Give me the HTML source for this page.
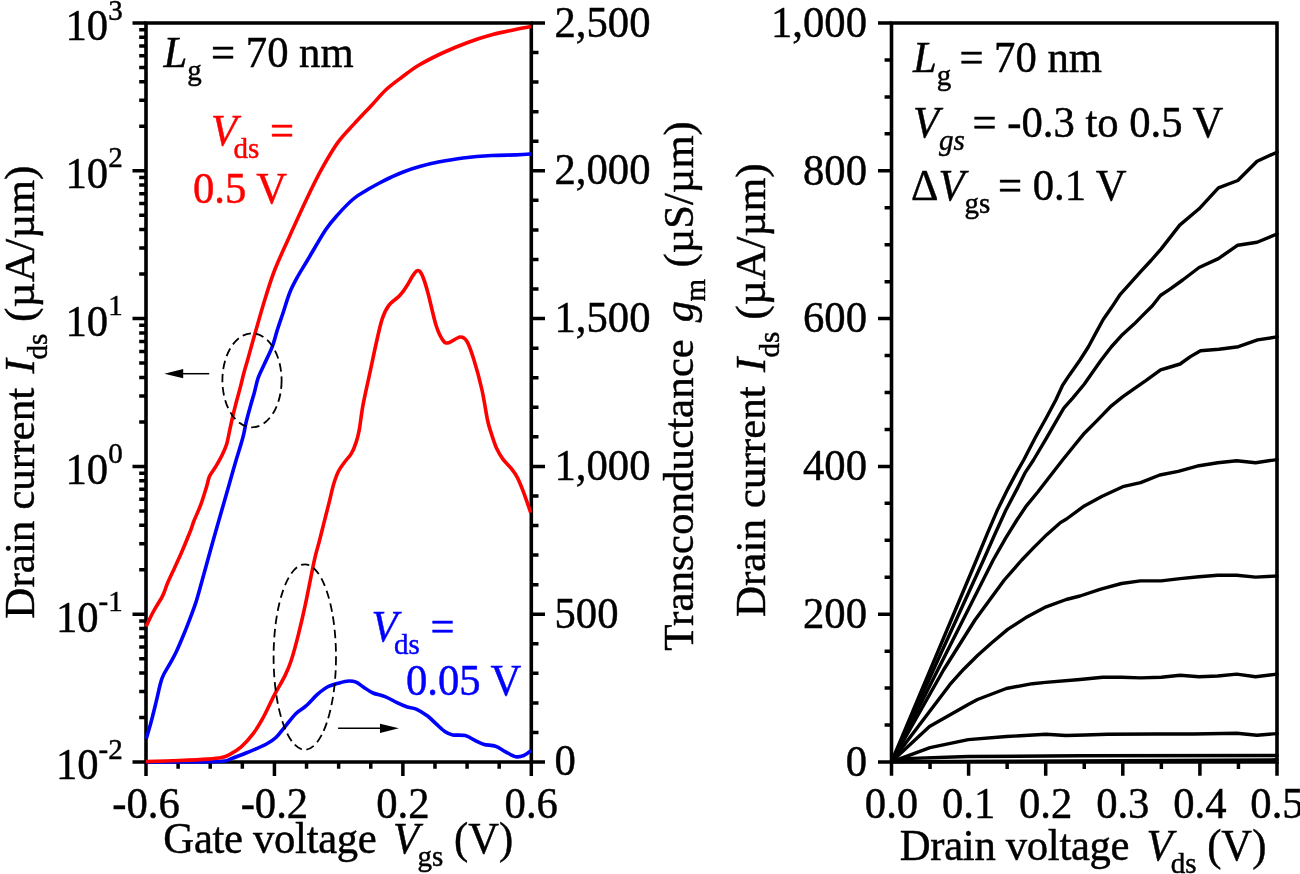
<!DOCTYPE html>
<html><head><meta charset="utf-8"><title>Ids-Vgs and Ids-Vds characteristics</title>
<style>
html,body{margin:0;padding:0;background:#fff;width:1300px;height:874px;overflow:hidden}
svg{display:block;will-change:transform}
text{font-family:"Liberation Serif",serif;font-size:42.67px;fill:#000;stroke:#000;stroke-width:0.45px}
</style></head><body>
<svg width="1300" height="874" viewBox="0 0 1300 874">
<rect width="1300" height="874" fill="#fff"/>
<g id="axes">
<path d="M146 23H531.3V762H146Z" fill="none" stroke="#000" stroke-width="3.6" stroke-linejoin="miter"/>
<path d="M146 762.00H132.5 M146 717.51H139.2 M146 691.48H139.2 M146 673.02H139.2 M146 658.69H139.2 M146 646.99H139.2 M146 637.09H139.2 M146 628.52H139.2 M146 620.96H139.2 M146 614.20H132.5 M146 569.71H139.2 M146 543.68H139.2 M146 525.22H139.2 M146 510.89H139.2 M146 499.19H139.2 M146 489.29H139.2 M146 480.72H139.2 M146 473.16H139.2 M146 466.40H132.5 M146 421.91H139.2 M146 395.88H139.2 M146 377.42H139.2 M146 363.09H139.2 M146 351.39H139.2 M146 341.49H139.2 M146 332.92H139.2 M146 325.36H139.2 M146 318.60H132.5 M146 274.11H139.2 M146 248.08H139.2 M146 229.62H139.2 M146 215.29H139.2 M146 203.59H139.2 M146 193.69H139.2 M146 185.12H139.2 M146 177.56H139.2 M146 170.80H132.5 M146 126.31H139.2 M146 100.28H139.2 M146 81.82H139.2 M146 67.49H139.2 M146 55.79H139.2 M146 45.89H139.2 M146 37.32H139.2 M146 29.76H139.2 M146 23.00H132.5 M531.3 762.00H545.00 M531.3 732.44H538.50 M531.3 702.88H538.50 M531.3 673.32H538.50 M531.3 643.76H538.50 M531.3 614.20H545.00 M531.3 584.64H538.50 M531.3 555.08H538.50 M531.3 525.52H538.50 M531.3 495.96H538.50 M531.3 466.40H545.00 M531.3 436.84H538.50 M531.3 407.28H538.50 M531.3 377.72H538.50 M531.3 348.16H538.50 M531.3 318.60H545.00 M531.3 289.04H538.50 M531.3 259.48H538.50 M531.3 229.92H538.50 M531.3 200.36H538.50 M531.3 170.80H545.00 M531.3 141.24H538.50 M531.3 111.68H538.50 M531.3 82.12H538.50 M531.3 52.56H538.50 M531.3 23.00H545.00 M146.00 762V776 M178.11 762V768.8 M210.22 762V768.8 M242.33 762V768.8 M274.43 762V776 M306.54 762V768.8 M338.65 762V768.8 M370.76 762V768.8 M402.87 762V776 M434.97 762V768.8 M467.08 762V768.8 M499.19 762V768.8 M531.30 762V776" stroke="#000" stroke-width="3.5" fill="none"/>
<path d="M891.5 23H1277V762H891.5Z" fill="none" stroke="#000" stroke-width="3.6"/>
<path d="M891.5 762.00H878.00 M891.5 725.05H884.60 M891.5 688.10H884.60 M891.5 651.15H884.60 M891.5 614.20H878.00 M891.5 577.25H884.60 M891.5 540.30H884.60 M891.5 503.35H884.60 M891.5 466.40H878.00 M891.5 429.45H884.60 M891.5 392.50H884.60 M891.5 355.55H884.60 M891.5 318.60H878.00 M891.5 281.65H884.60 M891.5 244.70H884.60 M891.5 207.75H884.60 M891.5 170.80H878.00 M891.5 133.85H884.60 M891.5 96.90H884.60 M891.5 59.95H884.60 M891.5 23.00H878.00 M891.50 762V775.7 M930.05 762V768.9 M968.60 762V775.7 M1007.15 762V768.9 M1045.70 762V775.7 M1084.25 762V768.9 M1122.80 762V775.7 M1161.35 762V768.9 M1199.90 762V775.7 M1238.45 762V768.9 M1277.00 762V775.7" stroke="#000" stroke-width="3.5" fill="none"/>
</g>
<g id="curves">
<path d="M146.0 761.9 C158.0 761.8 203.6 762.0 217.8 761.5 C232.0 761.0 226.2 760.2 231.4 758.6 C236.6 757.0 243.2 754.2 249.0 751.8 C254.8 749.4 262.0 746.4 266.5 744.0 C271.0 741.6 273.3 739.9 276.2 737.2 C279.1 734.5 280.7 731.8 284.0 727.8 C287.3 723.8 292.4 717.0 296.0 713.4 C299.6 709.8 302.1 709.4 305.7 706.2 C309.3 703.0 314.1 697.4 317.7 694.2 C321.3 691.0 323.7 688.9 327.3 687.0 C330.9 685.1 335.7 683.9 339.3 682.9 C342.9 681.9 346.1 681.1 348.9 681.0 C351.7 680.9 353.7 681.2 356.1 682.2 C358.5 683.2 360.5 685.2 363.3 687.0 C366.1 688.8 369.4 691.4 373.0 693.0 C376.6 694.6 381.0 695.0 385.0 696.6 C389.0 698.2 393.4 700.9 397.0 702.6 C400.6 704.3 403.4 705.6 406.6 706.7 C409.8 707.8 412.7 707.6 416.2 709.1 C419.7 710.6 424.2 713.5 427.6 716.0 C431.0 718.5 433.5 721.6 436.4 724.2 C439.3 726.8 442.5 730.0 445.2 731.8 C447.9 733.6 449.3 734.3 452.7 734.9 C456.1 735.5 461.5 734.6 465.3 735.6 C469.1 736.6 472.2 739.1 475.4 740.6 C478.5 742.1 480.8 743.5 484.2 744.4 C487.6 745.3 492.0 745.0 495.6 746.3 C499.2 747.5 502.2 750.2 505.6 751.9 C509.0 753.6 512.8 756.1 515.7 756.7 C518.7 757.3 520.7 756.8 523.3 755.7 C525.9 754.7 530.0 751.3 531.3 750.4" stroke="#00f" stroke-width="3.6" fill="none" stroke-linejoin="round"/>
<path d="M146.0 761.5 C151.5 761.3 168.6 760.9 178.9 760.5 C189.2 760.1 200.9 759.6 208.0 759.1 C215.1 758.6 218.1 758.3 221.7 757.6 C225.3 756.9 226.2 756.5 229.5 754.7 C232.8 752.9 237.3 750.3 241.2 746.9 C245.1 743.5 249.2 738.9 252.8 734.2 C256.4 729.5 259.0 725.2 262.6 718.7 C266.2 712.2 270.5 702.4 274.2 695.3 C277.9 688.2 282.1 681.7 284.9 675.9 C287.7 670.1 288.9 667.5 291.2 660.5 C293.5 653.5 296.1 643.7 298.5 634.1 C300.9 624.5 303.1 615.2 305.7 602.9 C308.3 590.6 312.1 570.3 314.4 560.1 C316.6 549.9 317.6 548.0 319.2 541.8 C320.8 535.5 322.4 529.0 324.0 522.6 C325.6 516.2 327.3 509.8 328.9 503.4 C330.5 497.0 332.1 489.5 333.7 484.1 C335.3 478.8 336.6 475.0 338.5 471.3 C340.4 467.6 342.8 464.6 344.9 461.7 C347.0 458.8 349.4 456.9 351.3 453.7 C353.2 450.5 354.8 446.4 356.1 442.4 C357.4 438.4 358.2 435.7 359.3 429.6 C360.4 423.5 361.2 414.9 362.9 405.6 C364.6 396.3 367.4 384.3 369.7 373.6 C372.0 362.9 374.5 350.7 376.6 341.5 C378.7 332.3 380.2 324.7 382.3 318.6 C384.4 312.5 386.3 308.7 389.2 304.9 C392.1 301.1 396.6 298.9 399.5 295.8 C402.4 292.8 404.3 289.8 406.4 286.6 C408.5 283.4 410.6 279.1 412.3 276.5 C414.0 273.9 415.2 271.8 416.5 271.0 C417.8 270.2 418.8 270.2 420.0 271.5 C421.2 272.8 422.1 274.8 423.5 278.5 C424.9 282.2 426.0 285.7 428.1 293.5 C430.2 301.3 433.6 317.7 436.1 325.5 C438.6 333.3 440.9 337.5 443.0 340.4 C445.1 343.3 445.8 343.3 448.7 342.7 C451.6 342.1 457.1 337.2 460.1 337.0 C463.2 336.8 464.7 337.7 467.0 341.5 C469.3 345.3 471.4 351.8 473.9 359.8 C476.4 367.8 479.6 379.6 481.9 389.6 C484.2 399.6 485.9 412.5 487.5 420.0 C489.1 427.5 490.1 429.6 491.6 434.4 C493.2 439.2 494.9 444.7 496.8 448.8 C498.7 452.9 500.5 455.8 502.9 459.1 C505.3 462.4 508.8 465.3 511.2 468.4 C513.6 471.5 515.4 473.7 517.4 477.6 C519.4 481.6 521.3 486.3 523.5 492.1 C525.7 497.9 529.5 509.2 530.7 512.6" stroke="#f00" stroke-width="3.6" fill="none" stroke-linejoin="round"/>
<path d="M146.2 738.9 C147.0 736.1 149.3 728.8 151.0 722.4 C152.7 716.0 154.7 707.7 156.5 700.4 C158.3 693.1 159.8 684.4 162.0 678.4 C164.2 672.4 167.1 668.8 169.5 664.4 C171.9 660.0 174.0 656.6 176.3 651.8 C178.6 647.0 180.9 641.3 183.2 635.8 C185.5 630.3 187.9 624.1 190.0 618.6 C192.1 613.1 194.2 607.4 195.8 602.6 C197.4 597.8 196.6 600.4 199.5 590.0 C202.4 579.6 208.6 556.7 213.3 540.0 C218.0 523.3 224.0 502.7 227.6 490.0 C231.2 477.3 232.5 472.7 235.0 464.0 C237.5 455.3 241.0 444.7 242.8 437.8 C244.7 430.9 244.8 427.8 246.1 422.4 C247.4 417.0 249.3 410.3 250.7 405.2 C252.1 400.1 253.3 396.5 254.5 392.0 C255.7 387.5 256.4 383.1 258.0 378.4 C259.6 373.7 262.0 369.3 264.4 364.0 C266.8 358.7 270.3 352.0 272.4 346.4 C274.5 340.8 275.3 336.3 277.2 330.4 C279.1 324.5 281.5 317.6 283.6 311.2 C285.7 304.8 287.6 297.9 290.0 292.0 C292.4 286.1 295.1 281.3 298.0 276.0 C300.9 270.7 303.0 267.7 307.6 260.0 C312.2 252.3 320.4 237.7 325.5 230.0 C330.6 222.3 333.6 219.3 338.3 214.1 C343.0 208.8 349.3 202.4 353.9 198.5 C358.5 194.6 361.5 193.3 365.8 190.7 C370.1 188.1 375.4 185.2 379.5 183.0 C383.6 180.8 386.6 179.3 390.5 177.5 C394.4 175.7 398.3 173.8 403.2 172.0 C408.1 170.2 413.8 168.2 419.7 166.6 C425.6 164.9 431.1 163.5 438.3 162.1 C445.5 160.7 454.1 159.1 463.0 158.0 C471.9 156.9 482.9 156.0 491.8 155.5 C500.7 155.0 510.0 155.2 516.5 154.9 C523.0 154.6 528.6 154.1 531.0 153.9" stroke="#00f" stroke-width="3.6" fill="none" stroke-linejoin="round"/>
<path d="M146.0 626.5 C147.3 623.9 150.9 616.1 153.7 611.0 C156.5 605.9 160.3 600.5 162.6 595.9 C164.9 591.3 165.4 588.1 167.4 583.5 C169.4 578.9 172.0 573.4 174.3 568.4 C176.6 563.4 178.4 559.7 181.2 553.3 C183.9 546.9 188.7 535.3 190.8 530.0 C192.9 524.7 192.1 525.6 193.7 521.5 C195.3 517.4 198.4 511.0 200.6 505.1 C202.8 499.2 205.3 490.7 206.8 485.9 C208.3 481.1 208.0 479.5 209.5 476.3 C211.0 473.1 213.5 470.4 215.7 466.7 C217.9 463.0 220.7 458.1 222.5 454.3 C224.3 450.5 225.7 447.2 226.7 444.0 C227.7 440.8 227.8 439.5 228.7 435.1 C229.6 430.7 231.2 423.0 232.4 417.8 C233.6 412.6 234.5 409.1 235.8 404.0 C237.1 398.9 239.1 392.0 240.4 386.9 C241.7 381.8 242.5 378.1 243.8 373.2 C245.1 368.2 246.5 364.1 248.4 357.2 C250.3 350.3 252.7 341.4 255.5 331.7 C258.3 322.0 261.9 309.1 265.1 298.8 C268.3 288.5 270.6 280.5 274.7 270.0 C278.8 259.5 284.6 247.4 289.8 235.7 C295.1 224.0 300.9 211.2 306.2 200.0 C311.5 188.8 316.6 178.3 321.9 168.7 C327.2 159.1 332.6 149.8 337.9 142.4 C343.2 135.0 348.1 130.4 353.9 124.1 C359.6 117.8 367.1 110.1 372.4 104.4 C377.7 98.7 380.9 94.5 385.7 90.0 C390.5 85.5 395.7 81.8 401.2 77.7 C406.7 73.6 411.8 69.4 418.7 65.3 C425.6 61.2 434.3 56.8 442.4 53.0 C450.5 49.2 458.9 45.7 467.1 42.7 C475.3 39.7 483.6 37.0 491.8 34.8 C500.0 32.6 510.0 30.7 516.5 29.3 C523.0 27.9 528.6 27.1 531.0 26.6" stroke="#f00" stroke-width="3.6" fill="none" stroke-linejoin="round"/>
<path d="M891.5 761.8 L1277.0 759.8" stroke="#000" stroke-width="3.4" fill="none" stroke-linejoin="round" stroke-linecap="round"/>
<path d="M891.5 761.8 L904.5 758.6 L968.0 756.5 L1080.0 755.8 L1277.0 755.5" stroke="#000" stroke-width="3.4" fill="none" stroke-linejoin="round" stroke-linecap="round"/>
<path d="M891.5 761.8 L930.0 747.6 L968.3 739.6 L1006.5 736.5 L1046.0 734.3 L1066.0 735.5 L1085.0 735.0 L1107.7 734.2 L1155.5 734.0 L1193.3 734.0 L1236.7 733.2 L1257.0 735.2 L1277.0 733.6" stroke="#000" stroke-width="3.4" fill="none" stroke-linejoin="round" stroke-linecap="round"/>
<path d="M891.5 761.8 L929.5 726.5 L968.2 704.4 L977.5 699.5 L1006.3 688.5 L1032.4 683.7 L1045.6 682.4 L1080.0 679.5 L1102.7 677.2 L1121.5 677.2 L1140.4 677.9 L1161.2 677.2 L1180.1 675.3 L1199.0 676.8 L1217.8 676.0 L1236.7 674.1 L1255.6 676.8 L1277.0 674.1" stroke="#000" stroke-width="3.4" fill="none" stroke-linejoin="round" stroke-linecap="round"/>
<path d="M891.5 761.8 L950.0 684.4 L963.7 669.2 L977.5 655.5 L991.2 643.2 L1007.7 629.4 L1025.5 617.8 L1046.1 606.8 L1066.2 599.5 L1080.0 596.0 L1100.8 589.2 L1121.5 583.5 L1140.4 580.9 L1161.2 580.9 L1180.1 578.6 L1199.0 576.7 L1217.8 575.2 L1236.7 575.2 L1255.6 577.1 L1277.0 576.0" stroke="#000" stroke-width="3.4" fill="none" stroke-linejoin="round" stroke-linecap="round"/>
<path d="M891.5 761.8 L943.5 670.0 L975.0 620.0 L990.0 599.5 L1004.3 580.0 L1021.8 560.0 L1033.2 548.1 L1047.0 534.4 L1060.0 522.9 L1066.5 519.0 L1084.3 505.9 L1102.2 496.3 L1122.8 486.7 L1140.6 482.6 L1159.8 475.0 L1178.2 471.3 L1199.0 465.7 L1217.8 462.7 L1236.7 460.8 L1255.6 462.7 L1277.0 459.6" stroke="#000" stroke-width="3.4" fill="none" stroke-linejoin="round" stroke-linecap="round"/>
<path d="M891.5 761.8 L993.2 560.0 L1005.8 537.8 L1017.2 519.5 L1026.4 505.8 L1037.8 492.0 L1049.2 477.2 L1062.6 460.0 L1074.1 445.8 L1084.4 433.2 L1097.0 420.6 L1111.4 405.8 L1122.9 396.7 L1134.3 388.6 L1145.8 380.6 L1160.6 369.8 L1168.6 367.5 L1180.1 364.0 L1190.4 356.6 L1200.5 350.7 L1219.0 349.2 L1238.4 346.7 L1257.6 339.9 L1277.0 336.9" stroke="#000" stroke-width="3.4" fill="none" stroke-linejoin="round" stroke-linecap="round"/>
<path d="M891.5 761.8 L983.5 560.0 L994.3 535.5 L1005.8 510.3 L1017.2 488.6 L1025.2 472.6 L1033.5 460.0 L1046.6 437.8 L1055.8 421.8 L1063.8 408.1 L1072.9 397.8 L1084.4 384.0 L1092.4 372.6 L1101.2 360.0 L1111.2 347.0 L1122.6 334.4 L1134.1 324.1 L1143.2 314.9 L1152.4 305.8 L1160.4 295.5 L1170.0 289.2 L1182.7 280.0 L1199.1 267.5 L1218.4 258.6 L1237.8 245.2 L1257.1 242.2 L1277.0 234.0" stroke="#000" stroke-width="3.4" fill="none" stroke-linejoin="round" stroke-linecap="round"/>
<path d="M891.5 761.8 L976.4 560.0 L987.5 533.2 L997.8 509.2 L1008.0 488.6 L1017.2 471.4 L1023.7 460.0 L1035.2 437.8 L1046.6 417.2 L1055.8 400.0 L1062.6 385.2 L1069.5 374.9 L1080.0 360.0 L1088.3 347.0 L1096.3 332.1 L1103.2 319.5 L1111.2 308.1 L1120.3 294.3 L1130.6 282.9 L1140.9 271.4 L1151.0 260.5 L1161.2 248.9 L1179.7 225.1 L1199.1 208.8 L1218.4 187.9 L1237.8 180.5 L1257.1 161.2 L1277.0 152.2" stroke="#000" stroke-width="3.4" fill="none" stroke-linejoin="round" stroke-linecap="round"/>
<ellipse cx="252" cy="380.3" rx="29.6" ry="47" fill="none" stroke="#000" stroke-width="1.8" stroke-dasharray="8.5 4.8"/>
<ellipse cx="304.8" cy="657" rx="31.2" ry="92.7" fill="none" stroke="#000" stroke-width="1.8" stroke-dasharray="8.5 4.8"/>
<path d="M209.2 373.7H182" stroke="#000" stroke-width="1.5"/><path d="M164.3 373.7L183.2 369.1V378.3Z" fill="#000"/>
<path d="M338.1 728.3H381" stroke="#000" stroke-width="1.5"/><path d="M398.9 728.3L380 723.7V732.9Z" fill="#000"/>
</g>
<g id="texts">
<text transform="matrix(1 0 0 1.04 0 -1.62)" x="122.70" y="40.50" text-anchor="end">10<tspan font-size="29" dy="-20">3</tspan></text>
<text transform="matrix(1 0 0 1.04 0 -7.53)" x="122.70" y="188.30" text-anchor="end">10<tspan font-size="29" dy="-20">2</tspan></text>
<text transform="matrix(1 0 0 1.04 0 -13.44)" x="122.70" y="336.10" text-anchor="end">10<tspan font-size="29" dy="-20">1</tspan></text>
<text transform="matrix(1 0 0 1.04 0 -19.36)" x="122.70" y="483.90" text-anchor="end">10<tspan font-size="29" dy="-20">0</tspan></text>
<text transform="matrix(1 0 0 1.04 0 -25.27)" x="122.70" y="631.70" text-anchor="end">10<tspan font-size="29" dy="-20">-1</tspan></text>
<text transform="matrix(1 0 0 1.04 0 -31.18)" x="122.70" y="779.50" text-anchor="end">10<tspan font-size="29" dy="-20">-2</tspan></text>
<text transform="matrix(1 0 0 1.04 0 -31.02)" x="554.50" y="775.50">0</text>
<text transform="matrix(1 0 0 1.04 0 -25.11)" x="554.50" y="627.70">500</text>
<text transform="matrix(1 0 0 1.04 0 -19.20)" x="554.50" y="479.90">1,000</text>
<text transform="matrix(1 0 0 1.04 0 -13.28)" x="554.50" y="332.10">1,500</text>
<text transform="matrix(1 0 0 1.04 0 -7.37)" x="554.50" y="184.30">2,000</text>
<text transform="matrix(1 0 0 1.04 0 -1.46)" x="554.50" y="36.50">2,500</text>
<text transform="matrix(1 0 0 1.04 0 -32.74)" x="146.00" y="818.50" text-anchor="middle">-0.6</text>
<text transform="matrix(1 0 0 1.04 0 -32.74)" x="274.43" y="818.50" text-anchor="middle">-0.2</text>
<text transform="matrix(1 0 0 1.04 0 -32.74)" x="402.87" y="818.50" text-anchor="middle">0.2</text>
<text transform="matrix(1 0 0 1.04 0 -32.74)" x="531.30" y="818.50" text-anchor="middle">0.6</text>
<text transform="matrix(1 0 0 1.04 0 -32.74)" x="891.50" y="818.50" text-anchor="middle">0.0</text>
<text transform="matrix(1 0 0 1.04 0 -32.74)" x="968.60" y="818.50" text-anchor="middle">0.1</text>
<text transform="matrix(1 0 0 1.04 0 -32.74)" x="1045.70" y="818.50" text-anchor="middle">0.2</text>
<text transform="matrix(1 0 0 1.04 0 -32.74)" x="1122.80" y="818.50" text-anchor="middle">0.3</text>
<text transform="matrix(1 0 0 1.04 0 -32.74)" x="1199.90" y="818.50" text-anchor="middle">0.4</text>
<text transform="matrix(1 0 0 1.04 0 -32.74)" x="1277.00" y="818.50" text-anchor="middle">0.5</text>
<text transform="matrix(1 0 0 1.04 0 -31.03)" x="867.00" y="775.80" text-anchor="end">0</text>
<text transform="matrix(1 0 0 1.04 0 -25.12)" x="867.00" y="628.00" text-anchor="end">200</text>
<text transform="matrix(1 0 0 1.04 0 -19.21)" x="867.00" y="480.20" text-anchor="end">400</text>
<text transform="matrix(1 0 0 1.04 0 -13.30)" x="867.00" y="332.40" text-anchor="end">600</text>
<text transform="matrix(1 0 0 1.04 0 -7.38)" x="867.00" y="184.60" text-anchor="end">800</text>
<text transform="matrix(1 0 0 1.04 0 -1.47)" x="867.00" y="36.80" text-anchor="end">1,000</text>
<text transform="matrix(1 0 0 1.04 0 -34.14)" x="338.30" y="853.50" text-anchor="middle"><tspan style="letter-spacing:-0.3px">Gate voltage </tspan><tspan font-style="italic" dx="6">V</tspan><tspan font-size="29" dy="12.5" dx="-1.4">gs</tspan><tspan dy="-12.5"> (V)</tspan></text>
<text transform="matrix(1 0 0 1.04 0 -34.40)" x="1083.10" y="860.00" text-anchor="middle"><tspan style="letter-spacing:-0.3px">Drain voltage </tspan><tspan font-style="italic" dx="7">V</tspan><tspan font-size="29" dy="12.5" dx="-2">ds</tspan><tspan dy="-12.5"> (V)</tspan></text>
<text transform="translate(33.6,618.71) scale(1,1.01) rotate(-90)">Drain current</text>
<text transform="translate(33.6,373.55) rotate(-90)" font-style="italic">I</text>
<text transform="translate(47.4,359.5) rotate(-90)" style="font-size:29px">ds</text>
<text transform="translate(33.6,321.9) scale(1,1.02) rotate(-90)">(&#xb5;A/&#xb5;m)</text>
<text transform="translate(764.7,617.11) scale(1,1.01) rotate(-90)">Drain current</text>
<text transform="translate(764.7,372.1) rotate(-90)" font-style="italic">I</text>
<text transform="translate(778.7,357.6) rotate(-90)" style="font-size:29px">ds</text>
<text transform="translate(764.7,319.7) scale(1,1.02) rotate(-90)">(&#xb5;A/&#xb5;m)</text>
<text transform="translate(693,650.7) scale(1,1.009) rotate(-90)">Transconductance</text>
<text transform="translate(693,322.2) rotate(-90)" font-style="italic">g</text>
<text transform="translate(705.3,301.5) rotate(-90)" style="font-size:29px">m</text>
<text transform="translate(693,267.5) rotate(-90)">(&#xb5;S/&#xb5;m)</text>
<text transform="matrix(1 0 0 1.04 0 -2.68)" x="163.50" y="67.00"><tspan font-style="italic">L</tspan><tspan font-size="29" dy="12.5">g</tspan><tspan dy="-12.5" dx="-1.3"> = 70 nm</tspan></text>
<text transform="matrix(1 0 0 1.04 0 -5.82)" x="211.00" y="145.40" style="fill:#f00;stroke:#f00"><tspan font-style="italic">V</tspan><tspan font-size="29" dy="12.5" dx="-3.5">ds</tspan><tspan dy="-12.5"> =</tspan></text>
<text transform="matrix(1 0 0 1.04 0 -8.12)" x="193.00" y="203.00" style="fill:#f00;stroke:#f00">0.5 V</text>
<text transform="matrix(1 0 0 1.04 0 -25.66)" x="371.50" y="641.50" style="fill:#00f;stroke:#00f"><tspan font-style="italic">V</tspan><tspan font-size="29" dy="12.5" dx="-3.5">ds</tspan><tspan dy="-12.5"> =</tspan></text>
<text transform="matrix(1 0 0 1.04 0 -27.82)" x="406.00" y="695.50" style="fill:#00f;stroke:#00f">0.05 V</text>
<text transform="matrix(1 0 0 1.04 0 -2.88)" x="913.00" y="72.00"><tspan font-style="italic">L</tspan><tspan font-size="29" dy="12.5">g</tspan><tspan dy="-12.5" dx="-2.5"> = 70 nm</tspan></text>
<text transform="matrix(1 0 0 1.04 0 -5.49)" x="913.00" y="137.20"><tspan font-style="italic">V</tspan><tspan font-size="29" dy="12.5" font-style="italic">gs</tspan><tspan dy="-12.5" dx="-3"> = -0.3 to 0.5 V</tspan></text>
<text transform="matrix(1 0 0 1.04 0 -8.00)" x="911.00" y="200.00">&#x394;<tspan font-style="italic">V</tspan><tspan font-size="29" dy="12.5">gs</tspan><tspan dy="-12.5" dx="-3"> = 0.1 V</tspan></text>
</g>
</svg>
</body></html>
